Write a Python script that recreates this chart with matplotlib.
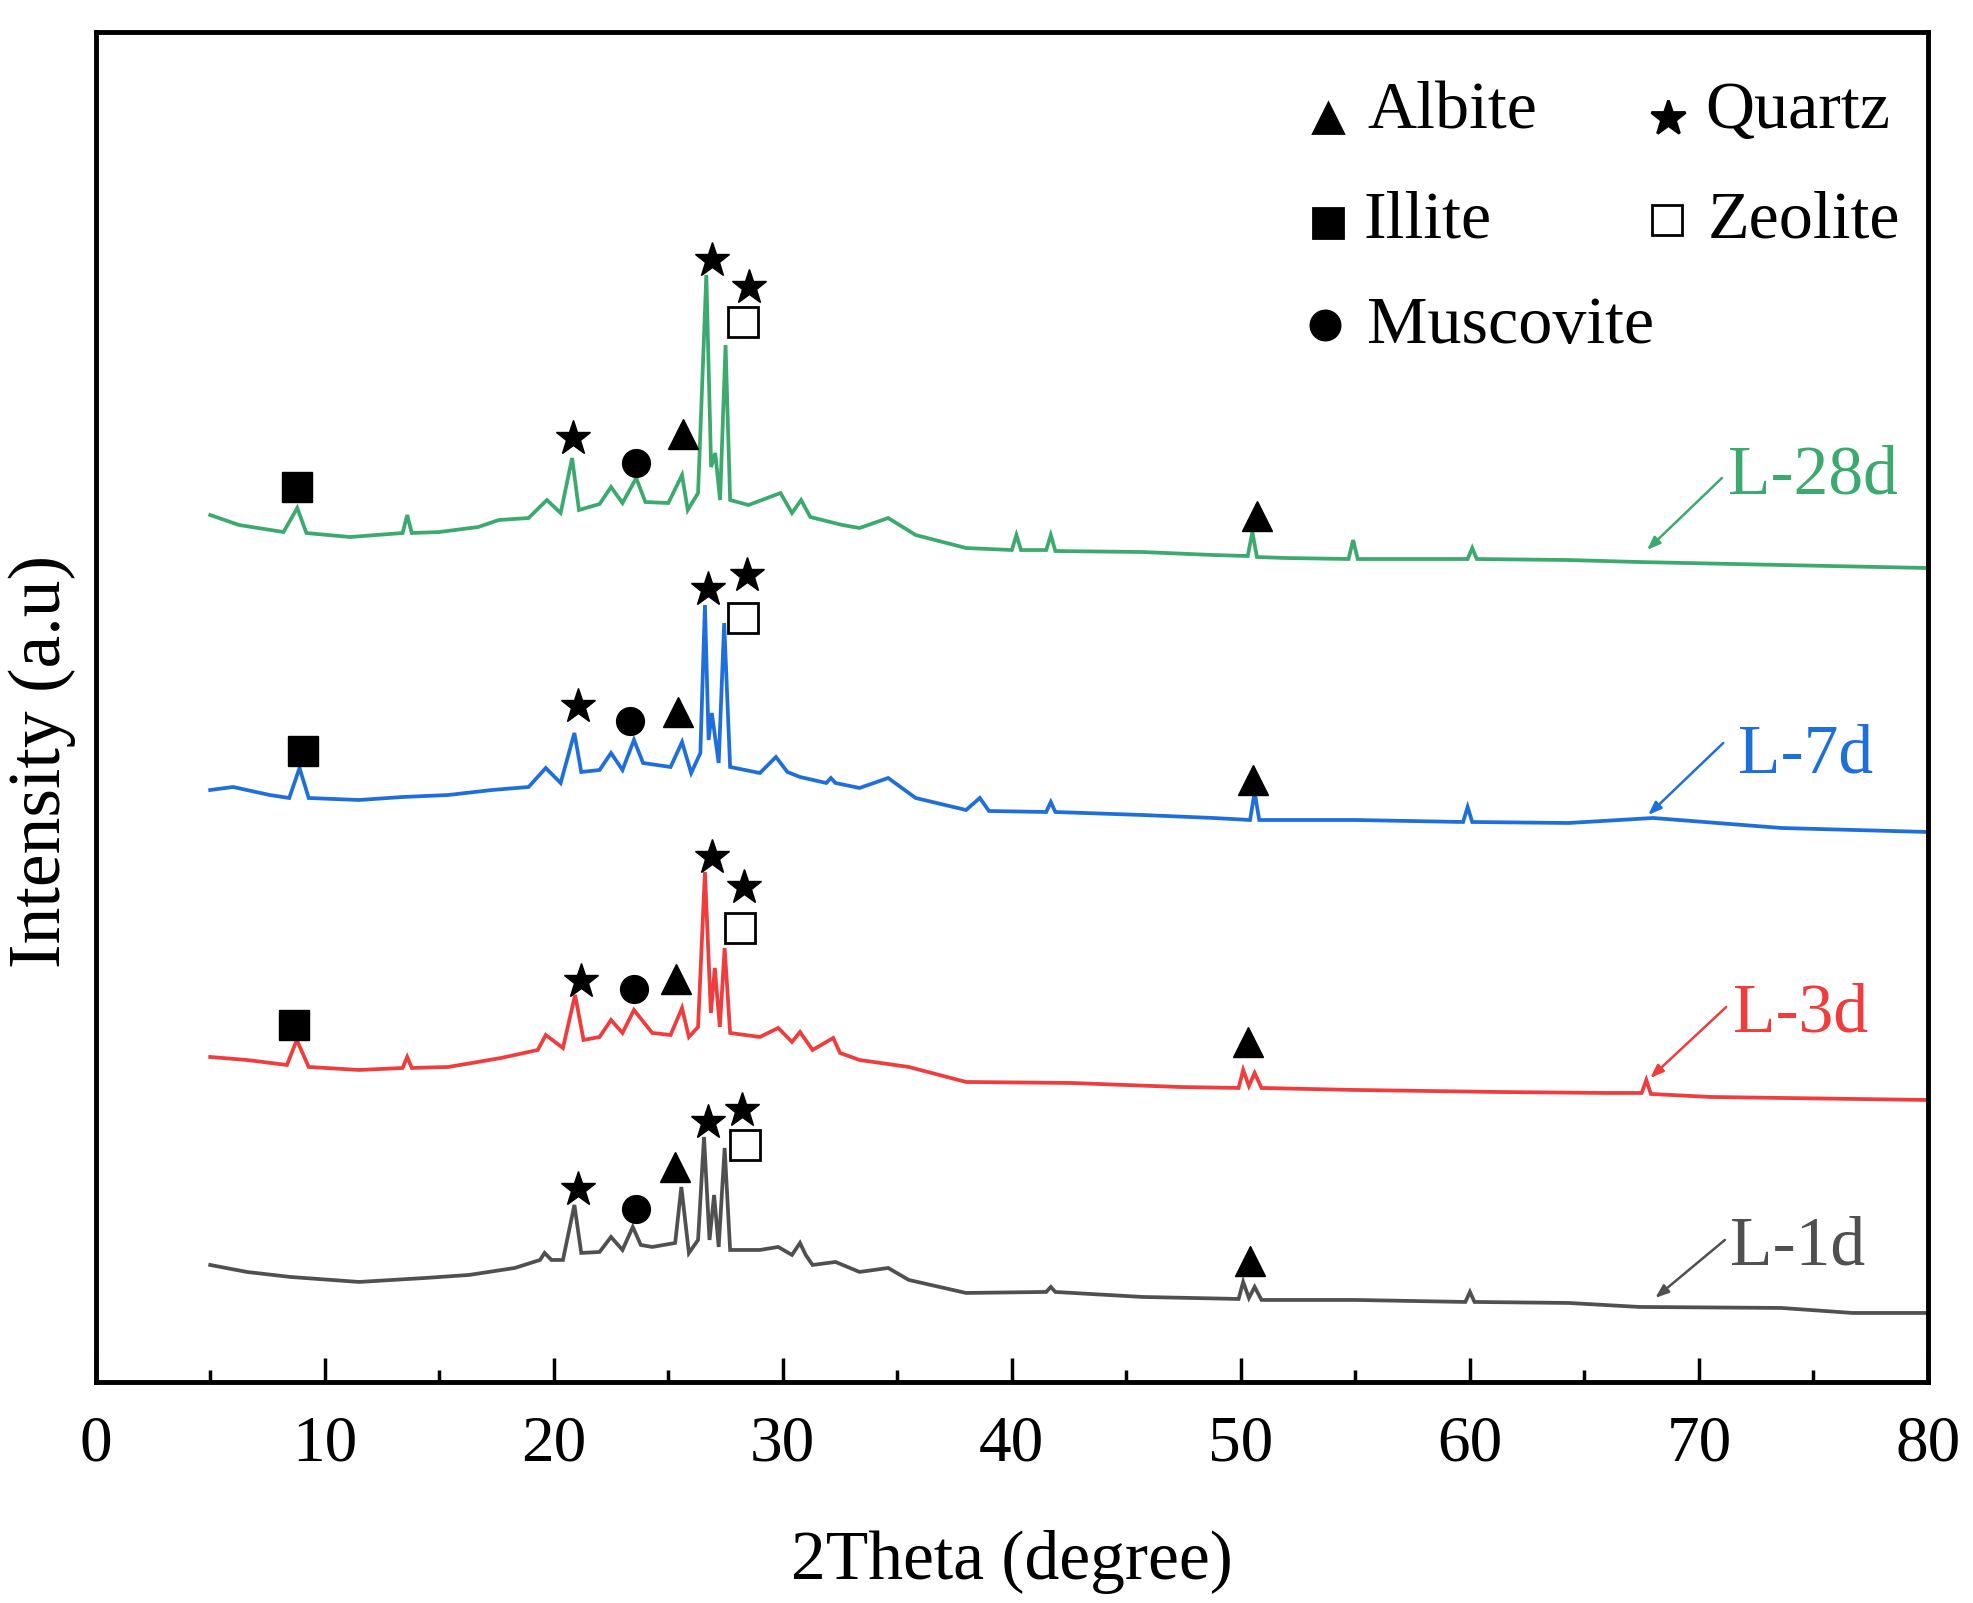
import matplotlib
matplotlib.use("Agg")
import matplotlib.pyplot as plt
from matplotlib.ticker import MultipleLocator

plt.rcParams['font.family'] = ['Liberation Serif', 'DejaVu Serif']

# XRD patterns (2theta in degree, stacked intensity in a.u.)
x_1d = [5.0, 6.6, 8.5, 11.5, 14.4, 16.3, 18.3, 19.4, 19.6, 19.9, 20.4, 20.9, 21.2, 22.0, 22.5,
        23.0, 23.45, 23.8, 24.3, 25.3, 25.57, 25.9, 26.3, 26.56, 26.8, 27.0, 27.2, 27.46, 27.7,
        29.0, 29.8, 30.4, 30.75, 31.0, 31.3, 32.3, 33.35, 34.6, 35.5, 38.0, 41.5, 41.7, 41.9,
        45.7, 49.9, 50.1, 50.35, 50.6, 50.9, 55.0, 59.8, 60.0, 60.2, 64.3, 67.4, 73.6, 76.7, 80.0]
y_1d = [117, 110, 105, 100, 104, 107, 114, 122, 129, 122, 122, 177, 129, 130, 145,
        132, 155, 137, 135, 139, 195, 129, 142, 245, 142, 187, 135, 234, 132,
        132, 135, 127, 139, 127, 117, 120, 110, 114, 102, 89, 90, 95, 90,
        85, 83, 100, 84, 95, 82, 82, 80, 90, 80, 79, 75, 74, 69, 69]

x_3d = [5.0, 6.6, 8.35, 8.78, 9.3, 11.5, 13.4, 13.6, 13.8, 15.4, 17.7, 19.3, 19.65, 20.4, 20.93,
        21.3, 22.0, 22.5, 23.0, 23.5, 24.3, 25.1, 25.6, 25.9, 26.3, 26.6, 26.86, 27.03, 27.25,
        27.46, 27.7, 29.0, 29.8, 30.4, 30.75, 31.3, 32.2, 32.5, 33.35, 35.5, 38.0, 42.6, 47.3,
        49.9, 50.1, 50.35, 50.6, 50.9, 55.0, 61.2, 65.9, 67.5, 67.7, 67.9, 70.5, 80.0]
y_3d = [325, 322, 317, 342, 315, 312, 314, 325, 314, 315, 324, 332, 347, 334, 387,
        342, 345, 362, 349, 372, 349, 347, 374, 345, 355, 510, 369, 414, 355,
        434, 349, 345, 354, 340, 350, 332, 344, 329, 322, 315, 300, 299, 295,
        294, 312, 296, 309, 294, 292, 290, 289, 289, 302, 288, 285, 282]

x_7d = [5.0, 6.0, 7.6, 8.45, 8.9, 9.3, 11.5, 13.4, 15.4, 17.3, 18.9, 19.65, 20.3, 20.9, 21.2,
        22.0, 22.5, 23.0, 23.5, 23.9, 25.1, 25.6, 26.0, 26.4, 26.6, 26.76, 26.9, 27.2, 27.44,
        27.7, 29.0, 29.7, 30.2, 30.75, 31.9, 32.1, 32.3, 33.35, 34.6, 35.8, 38.0, 38.6, 39.0,
        41.5, 41.7, 41.9, 45.7, 48.8, 50.4, 50.6, 50.8, 55.0, 59.7, 59.9, 60.1, 64.3, 68.0,
        73.6, 80.0]
y_7d = [592, 595, 587, 584, 614, 584, 582, 585, 587, 592, 595, 614, 599, 649, 610,
        612, 629, 612, 642, 619, 615, 640, 609, 629, 777, 642, 669, 619, 759,
        615, 609, 625, 610, 605, 599, 604, 599, 594, 604, 584, 572, 584, 571,
        570, 580, 570, 567, 564, 562, 590, 562, 562, 560, 575, 560, 559, 564,
        554, 550]

x_28d = [5.0, 6.26, 8.2, 8.8, 9.2, 11.1, 13.4, 13.6, 13.8, 15.0, 16.7, 17.6, 18.9, 19.7, 20.3,
         20.8, 21.1, 22.0, 22.5, 23.0, 23.6, 24.0, 25.0, 25.6, 25.85, 26.3, 26.66, 26.87, 27.05,
         27.26, 27.5, 27.7, 28.5, 29.9, 30.4, 30.8, 31.2, 32.6, 33.35, 34.6, 35.8, 38.0, 40.0,
         40.2, 40.4, 41.5, 41.7, 41.9, 45.7, 48.8, 50.3, 50.5, 50.7, 52.0, 54.7, 54.9, 55.1,
         59.9, 60.1, 60.3, 64.3, 67.4, 73.6, 80.0]
y_28d = [867, 857, 850, 874, 849, 845, 849, 867, 849, 850, 855, 862, 864, 882, 869,
         924, 872, 878, 895, 879, 904, 880, 879, 907, 872, 889, 1107, 915, 929,
         882, 1037, 882, 877, 889, 869, 882, 865, 857, 854, 864, 847, 834, 832,
         847, 832, 832, 847, 831, 830, 827, 826, 850, 825, 824, 823, 842, 823,
         823, 834, 823, 822, 820, 817, 814]

samples = ['L-1d', 'L-3d', 'L-7d', 'L-28d']
colors = ['#505050', '#f03c3c', '#1e6edc', '#3caa6e']

# phase marks above the peaks
albite_x = [25.63, 50.71, 25.41, 50.55, 25.35, 50.33, 25.3, 50.38]
albite_y = [948, 866, 670, 602, 403, 340, 215, 121]
quartz_x = [20.85, 26.89, 28.54, 21.07, 26.73, 28.43, 21.18, 26.89, 28.32, 21.07, 26.73, 28.21]
quartz_y = [944, 1122, 1095, 676, 793, 807, 401, 525, 495, 193, 260, 272]
illite_x = [8.78, 9.05, 8.67]
illite_y = [895, 631, 357]
zeolite_x = [28.26, 28.26, 28.15, 28.37]
zeolite_y = [1060, 764, 454, 237]
muscovite_x = [23.6, 23.32, 23.49, 23.6]
muscovite_y = [919, 661, 393, 173]

fig = plt.figure(figsize=(19.73, 16.03), dpi=100)
ax = fig.add_axes([0.0485, 0.1379, 0.9287, 0.8421])

series = [(x_1d, y_1d), (x_3d, y_3d), (x_7d, y_7d), (x_28d, y_28d)]
for (xs, ys), c in zip(series, colors):
    ax.plot(xs, ys, color=c, lw=2.7, solid_joinstyle='miter')

ms = 21
ax.plot(albite_x, albite_y, ls='none', marker='^', ms=ms, color='black')
ax.plot(quartz_x, quartz_y, ls='none', marker='*', ms=ms + 5, color='black')
ax.plot(illite_x, illite_y, ls='none', marker='s', ms=ms, color='black')
ax.plot(zeolite_x, zeolite_y, ls='none', marker='s', ms=ms, mfc='white', mec='black', mew=2)
ax.plot(muscovite_x, muscovite_y, ls='none', marker='o', ms=ms - 1, color='black')

# sample labels with arrows
label_pos = [(71.37, 117), (71.5, 350), (71.7, 609), (71.27, 889)]
arrow_from = [(71.13, 142), (71.19, 375), (71.06, 639), (71.0, 904)]
arrow_to = [(68.09, 84), (67.87, 304), (67.78, 567), (67.73, 832)]
for name, c, lp, af, at in zip(samples, colors, label_pos, arrow_from, arrow_to):
    ax.text(lp[0], lp[1], name, color=c, fontsize=50, ha='left', va='baseline')
    ax.annotate('', xy=at, xytext=af,
                arrowprops=dict(arrowstyle='-|>,head_length=0.8,head_width=0.3',
                                color=c, lw=1.8, shrinkA=0, shrinkB=0))

# phase key
key_items = [('^', 'black', 'Albite', 53.79, 1264, 55.51, 1254),
             ('*', 'black', 'Quartz', 68.64, 1264, 70.26, 1254),
             ('s', 'black', 'Illite', 53.79, 1159, 55.34, 1145),
             ('s', 'white', 'Zeolite', 68.6, 1162, 70.39, 1145),
             ('o', 'black', 'Muscovite', 53.68, 1057, 55.51, 1039)]
for mk, fc, txt, mx, my, tx, ty in key_items:
    size = ms + 5 if mk == '*' else ms
    ax.plot([mx], [my], ls='none', marker=mk, ms=size, mfc=fc, mec='black', mew=2)
    ax.text(tx, ty, txt, fontsize=49, ha='left', va='baseline')

ax.set_xlim(0, 80)
ax.set_ylim(0, 1350)
ax.xaxis.set_major_locator(MultipleLocator(10))
ax.xaxis.set_minor_locator(MultipleLocator(5))
ax.set_yticks([])
ax.tick_params(axis='x', which='major', direction='in', length=17, width=2.5,
               labelsize=47, pad=24, top=False)
ax.tick_params(axis='x', which='minor', direction='in', length=9, width=2.5, top=False)
for s in ax.spines.values():
    s.set_linewidth(3.5)

ax.set_xlabel('2Theta (degree)', fontsize=50, labelpad=40)
ax.set_ylabel('Intensity (a.u)', fontsize=53)
ax.yaxis.set_label_coords(-0.0107, 0.46)

fig.savefig('out.png', dpi=100)
